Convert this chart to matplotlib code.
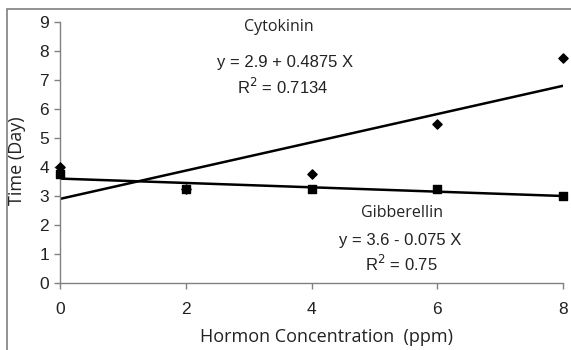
import matplotlib
matplotlib.use("Agg")
import matplotlib.pyplot as plt
from matplotlib.patches import Rectangle
import numpy as np

conc = [0, 2, 4, 6, 8]
cytokinin = [4.0, 3.25, 3.75, 5.5, 7.75]
gibberellin = [3.75, 3.25, 3.25, 3.25, 3.0]
cyto_fit = (2.9, 0.4875)
gib_fit = (3.6, -0.075)
xticks = [0, 2, 4, 6, 8]
yticks = [0, 1, 2, 3, 4, 5, 6, 7, 8, 9]

fig = plt.figure(figsize=(5.71, 3.5), dpi=100)
ax = fig.add_axes([60/571, 1-283/350, (563-60)/571, (283-22)/350])

# outer frame (only top/left visible in the reference)
fig.patches.append(Rectangle((7/571, -0.1), 1.2, 1 - 9/350 + 0.1, transform=fig.transFigure,
                             fill=False, edgecolor="#7f7f7f", linewidth=1.2))

xs = np.array([0, 8])
ax.plot(xs, cyto_fit[0] + cyto_fit[1]*xs, color="black", lw=1.8, zorder=2)
ax.plot(xs, gib_fit[0] + gib_fit[1]*xs, color="black", lw=1.8, zorder=2)
ax.scatter(conc, gibberellin, marker="s", s=30, color="black", zorder=3, clip_on=False)
ax.scatter(conc, cytokinin, marker="D", s=22, color="black", zorder=3, clip_on=False)

ax.set_xlim(0, 8)
ax.set_ylim(0, 9)
ax.set_xticks(xticks)
ax.set_yticks(yticks)
for s in ["top", "right"]:
    ax.spines[s].set_visible(False)
for s in ["left", "bottom"]:
    ax.spines[s].set_color("#808080")
    ax.spines[s].set_linewidth(1.0)
ax.tick_params(axis="both", direction="out", length=4, color="#808080", width=1.0,
               labelsize=12.5, labelcolor="#222222")
ax.tick_params(axis="x", pad=10)
ax.tick_params(axis="y", pad=4)
for lab in ax.get_xticklabels() + ax.get_yticklabels():
    lab.set_fontfamily("Liberation Sans")

def ftxt(x, y, s, fam, size, rot=0):
    fig.text(x/571, 1-y/350, s, ha="center", va="center", fontfamily=fam, fontsize=size,
             color="#222222", rotation=rot)

ftxt(327, 337, "Hormon Concentration  (ppm)", "Open Sans", 13)
ftxt(17, 161, "Time (Day)", "Open Sans", 13, rot=90)

ftxt(279, 27, "Cytokinin", "Open Sans", 11.5)
ftxt(285, 62, "y = 2.9 + 0.4875 X", "Liberation Sans", 12)
ftxt(283, 87, "R$^2$ = 0.7134", "Liberation Sans", 12)
ftxt(402, 213, "Gibberellin", "Open Sans", 11.5)
ftxt(400, 240, "y = 3.6 - 0.075 X", "Liberation Sans", 12)
ftxt(401, 264, "R$^2$ = 0.75", "Liberation Sans", 12)

fig.savefig("out.png", dpi=100)
